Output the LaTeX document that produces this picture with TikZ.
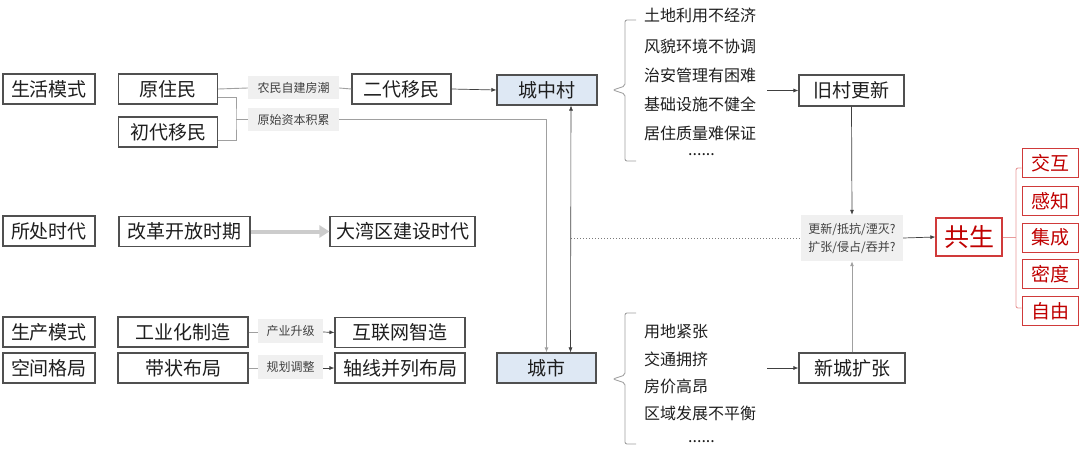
\documentclass[tikz,border=0pt]{standalone}
\usepackage{fontspec}
\setmainfont{Noto Sans CJK SC}
\usetikzlibrary{arrows.meta}
\definecolor{boxc}{HTML}{505050}
\definecolor{txt}{HTML}{1E1E1E}
\definecolor{gl}{HTML}{A0A0A0}
\definecolor{al}{HTML}{404040}
\definecolor{lbg}{HTML}{F0F0F0}
\definecolor{bluef}{HTML}{DEE8F4}
\definecolor{redt}{HTML}{C00000}
\definecolor{redb}{HTML}{D03A3A}
\definecolor{redl}{HTML}{E89A9A}
\definecolor{thick}{HTML}{CCCCCC}
\definecolor{dotc}{HTML}{7A7A7A}
\tikzset{
  box/.style={draw=boxc, line width=1.1pt, fill=white, minimum height=30pt, inner sep=0pt, text=txt, font=\fontsize{19}{21}\selectfont},
  bluebox/.style={box, fill=bluef},
  tag/.style={fill=lbg, inner sep=0pt, minimum height=23pt, text=al, font=\fontsize{12}{14}\selectfont},
  redbox/.style={draw=redb, line width=1pt, fill=white, minimum height=29pt, minimum width=56pt, inner sep=0pt, text=redt, font=\fontsize{19}{21}\selectfont},
  item/.style={anchor=west, inner sep=0pt, text=txt, font=\fontsize{16}{18}\selectfont},
  gline/.style={draw=gl, line width=0.9pt},
  aline/.style={draw=al, line width=0.7pt, -{Latex[length=5pt,width=4pt]}},
  galine/.style={draw=gl, line width=0.9pt, -{Latex[length=5pt,width=4pt]}},
}
\begin{document}
\begin{tikzpicture}[x=1pt,y=-1pt]
\useasboundingbox (0,0) rectangle (1080,460);
% left column
\node[box, minimum width=92pt] (shms) at (49,89) {生活模式};
\node[box, minimum width=92pt] (scsd) at (49,231) {所处时代};
\node[box, minimum width=92pt] (scms) at (49,332) {生产模式};
\node[box, minimum width=92pt] (kjgj) at (49,368) {空间格局};
% row 1
\node[box, minimum width=99pt] (yzm) at (168,89) {原住民};
\node[box, minimum width=99pt] (cdym) at (168,132) {初代移民};
\node[tag, minimum width=91pt] (nmzj) at (293.5,88) {农民自建房潮};
\node[tag, minimum width=91pt] (ysjl) at (293.5,119.5) {原始资本积累};
\node[box, minimum width=99pt] (edym) at (401.5,89) {二代移民};
\node[bluebox, minimum width=100pt] (czc) at (547,90) {城中村};
% row 2
\node[box, minimum width=131pt] (ggkf) at (184.5,231.5) {改革开放时期};
\node[box, minimum width=145pt] (dwq) at (402.5,231.5) {大湾区建设时代};
% rows 3,4
\node[box, minimum width=130pt] (gyh) at (183,332) {工业化制造};
\node[box, minimum width=130pt] (dzbj) at (183,368) {带状布局};
\node[tag, minimum width=65pt, minimum height=24pt] (cysj) at (290.5,331) {产业升级};
\node[tag, minimum width=65pt, minimum height=24pt] (ghtz) at (290.5,367) {规划调整};
\node[box, minimum width=130pt] (hlw) at (400,332.5) {互联网智造};
\node[box, minimum width=130pt] (zxbl) at (400,368) {轴线并列布局};
\node[bluebox, minimum width=99pt] (cs) at (546.5,368) {城市};
% right side
\node[item] (t1) at (644,15) {土地利用不经济};
\node[item] (t2) at (644,46) {风貌环境不协调};
\node[item] (t3) at (644,75) {治安管理有困难};
\node[item] (t4) at (644,104) {基础设施不健全};
\node[item] (t5) at (644,133) {居住质量难保证};
\node[item] (t6) at (688,155) {......};
\node[box, minimum width=105pt, minimum height=31pt] (jcgx) at (851.5,90.5) {旧村更新};
\node[item] (b1) at (644,331) {用地紧张};
\node[item] (b2) at (644,359) {交通拥挤};
\node[item] (b3) at (644,386) {房价高昂};
\node[item] (b4) at (644,413) {区域发展不平衡};
\node[item] (b5) at (688,442) {......};
\node[box, minimum width=106pt] (xckz) at (852,368) {新城扩张};
\node[fill=lbg, minimum width=102pt, minimum height=46pt, inner sep=0pt, align=center, text=al, font=\fontsize{12}{18}\selectfont] (q) at (852,238) {更新/抵抗/湮灭?\\扩张/侵占/吞并?};
\node[draw=redb, line width=1.2pt, fill=white, minimum width=66pt, minimum height=38pt, inner sep=0pt, text=redt, font=\fontsize{25}{27}\selectfont] (gs) at (969,237) {共生};
\node[redbox] (r1) at (1050,163) {交互};
\node[redbox] (r2) at (1050,201) {感知};
\node[redbox] (r3) at (1050,237.5) {集成};
\node[redbox] (r4) at (1050,274) {密度};
\node[redbox] (r5) at (1050,311) {自由};
% connectors row 1
\draw[gline] (yzm.east) -- (nmzj.west);
\draw[gline] (nmzj.east) -- (edym.west);
\coordinate (jn) at (236,119.5);
\draw[gline] ([yshift=-8pt]yzm.east) -| (jn) |- ([yshift=-8pt]cdym.east);
\draw[gline] (jn) -- (ysjl.west);
\draw[aline] (edym.east) -- (czc.west);
\draw[galine] (ysjl.east) -| (cs.north);
\draw[draw=al, line width=0.6pt, {Latex[length=5pt,width=4pt]}-{Latex[length=5pt,width=4pt]}] ([xshift=24pt]czc.south) -- ([xshift=24pt]cs.north);
\coordinate (dv) at (571,238);
\draw[draw=dotc, line width=1pt, dotted] (dv) -- (q.west);
% row 2
\draw[draw=thick, line width=4pt, -{Triangle[length=10pt,width=12pt]}] (ggkf.east) -- (dwq.west);
% rows 3,4
\draw[gline] (gyh.east) -- ([yshift=-1pt]cysj.west);
\draw[aline] ([yshift=-1pt]cysj.east) -- (hlw.west);
\draw[gline] (dzbj.east) -- ([yshift=-1pt]ghtz.west);
\draw[aline] ([yshift=-1pt]ghtz.east) -- (zxbl.west);
% braces
\draw[gline, rounded corners=2pt] (636,20) -- (625,20) -- (625,86) -- (613,90) -- (625,94) -- (625,161) -- (636,161);
\draw[gline, rounded corners=2pt] (636,313) -- (625,313) -- (625,375) -- (613,379) -- (625,383) -- (625,444) -- (636,444);
\coordinate (a1) at (767,90.5);
\coordinate (a2) at (767,368);
\draw[aline] (a1) -- (jcgx.west);
\draw[aline] (a2) -- (xckz.west);
\draw[aline] (jcgx.south) -- (q.north);
\draw[galine] (xckz.north) -- (q.south);
\draw[aline] (q.east) -- (gs.west);
% red bracket
\coordinate (rb) at (1016,237);
\draw[draw=redl, line width=0.9pt] (gs.east) -- (rb);
\draw[draw=redl, line width=0.9pt, rounded corners=2pt] ([yshift=-5pt]r1.west) -| (rb) |- ([yshift=3pt]r5.west);
\end{tikzpicture}
\end{document}
